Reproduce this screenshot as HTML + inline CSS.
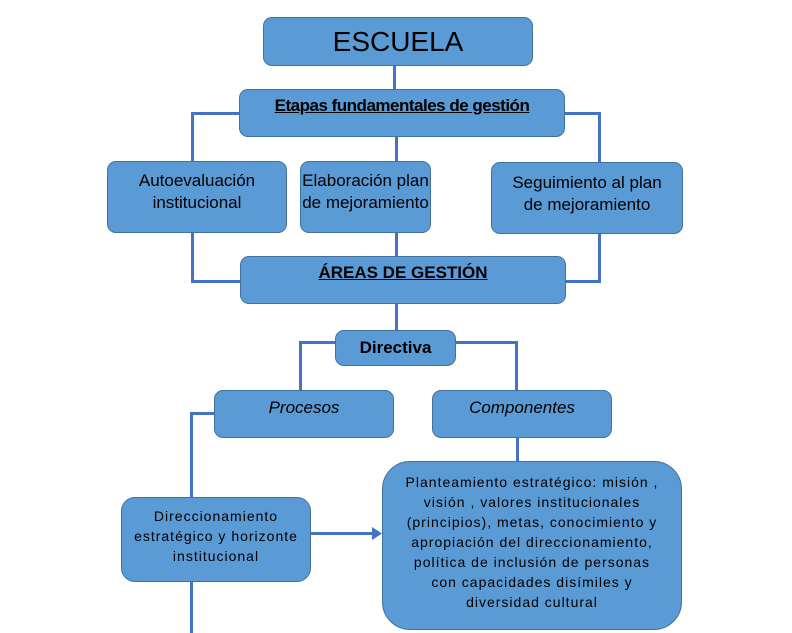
<!DOCTYPE html>
<html><head><meta charset="utf-8"><style>
body{margin:0;width:792px;height:633px;background:#fff;position:relative;overflow:hidden;font-family:"Liberation Sans",sans-serif;}
.b{position:absolute;background:#5b9bd5;border:1px solid #41719c;border-radius:9px;box-sizing:border-box;text-align:center;color:#000;}
.l{position:absolute;background:#4472c4;}
</style></head><body>
<div class="l" style="left:393px;top:64px;width:3px;height:26px"></div>
<div class="l" style="left:191px;top:112px;width:50px;height:3px"></div>
<div class="l" style="left:191px;top:112px;width:3px;height:50px"></div>
<div class="l" style="left:562px;top:112px;width:39px;height:3px"></div>
<div class="l" style="left:598px;top:112px;width:3px;height:51px"></div>
<div class="l" style="left:395px;top:135px;width:3px;height:27px"></div>
<div class="l" style="left:395px;top:231px;width:3px;height:26px"></div>
<div class="l" style="left:191px;top:231px;width:3px;height:52px"></div>
<div class="l" style="left:191px;top:280px;width:50px;height:3px"></div>
<div class="l" style="left:598px;top:232px;width:3px;height:51px"></div>
<div class="l" style="left:564px;top:280px;width:37px;height:3px"></div>
<div class="l" style="left:395px;top:303px;width:3px;height:28px"></div>
<div class="l" style="left:299px;top:341px;width:37px;height:3px"></div>
<div class="l" style="left:299px;top:341px;width:3px;height:50px"></div>
<div class="l" style="left:455px;top:341px;width:63px;height:3px"></div>
<div class="l" style="left:515px;top:341px;width:3px;height:50px"></div>
<div class="l" style="left:190px;top:412px;width:26px;height:3px"></div>
<div class="l" style="left:190px;top:412px;width:3px;height:86px"></div>
<div class="l" style="left:190px;top:580px;width:3px;height:53px"></div>
<div class="l" style="left:516px;top:436px;width:3px;height:26px"></div>
<div class="l" style="left:310px;top:532px;width:66px;height:3px"></div>
<svg style="position:absolute;left:372px;top:527px" width="12" height="13"><polygon points="0,0 10,6.5 0,13" fill="#4472c4"/></svg>

<div class="b" style="left:263px;top:17px;width:270px;height:49px;font-size:28px;line-height:48px">ESCUELA</div>
<div class="b" style="left:239px;top:89px;width:326px;height:48px;font-size:17px;font-weight:bold;padding-top:6px;letter-spacing:-0.5px"><u>Etapas fundamentales de gestión</u></div>
<div class="b" style="left:107px;top:161px;width:180px;height:72px;font-size:17px;line-height:22px;padding-top:8px">Autoevaluación<br>institucional</div>
<div class="b" style="left:300px;top:161px;width:131px;height:72px;font-size:17px;line-height:22px;padding-top:8px;white-space:nowrap">Elaboración plan<br>de mejoramiento</div>
<div class="b" style="left:491px;top:162px;width:192px;height:72px;font-size:17px;line-height:22px;padding-top:9px">Seguimiento al plan<br>de mejoramiento</div>
<div class="b" style="left:240px;top:256px;width:326px;height:48px;font-size:17px;font-weight:bold;padding-top:6px"><u>ÁREAS DE GESTIÓN</u></div>
<div class="b" style="left:335px;top:330px;width:121px;height:36px;font-size:17px;font-weight:bold;line-height:33px">Directiva</div>
<div class="b" style="left:214px;top:390px;width:180px;height:48px;font-size:17px;font-style:italic;padding-top:7px">Procesos</div>
<div class="b" style="left:432px;top:390px;width:180px;height:48px;font-size:17px;font-style:italic;padding-top:7px">Componentes</div>
<div class="b" style="left:121px;top:497px;width:190px;height:85px;font-size:14px;line-height:20px;padding-top:8px;border-radius:14px;white-space:nowrap;letter-spacing:1px">Direccionamiento<br>estratégico y horizonte<br>institucional</div>
<div class="b" style="left:382px;top:461px;width:300px;height:169px;font-size:14px;line-height:20px;padding-top:10px;border-radius:28px;white-space:nowrap;letter-spacing:1px">Planteamiento estratégico: misión ,<br>visión , valores institucionales<br>(principios), metas, conocimiento y<br>apropiación del direccionamiento,<br>política de inclusión de personas<br>con capacidades disímiles y<br>diversidad cultural</div>
</body></html>
